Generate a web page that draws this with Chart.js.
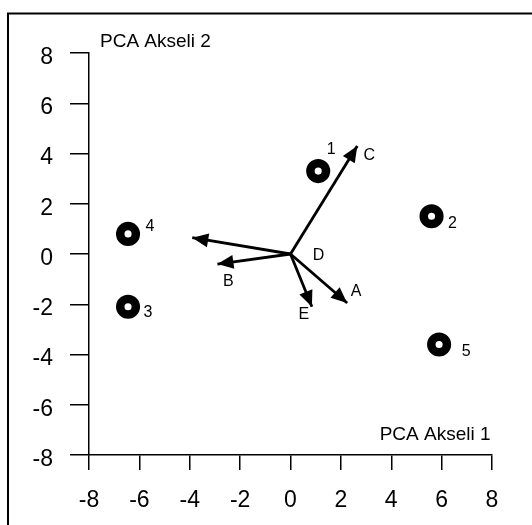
<!DOCTYPE html>
<html><head><meta charset="utf-8">
<script src="https://cdn.jsdelivr.net/npm/chart.js@4/dist/chart.umd.min.js"></script>
<style>html,body{margin:0;padding:0;background:#fff}</style>
</head><body>
<canvas id="c" width="532" height="525" style="display:block;width:532px;height:525px"></canvas>
<script>
// ---- data ----
const sampleLabels = ['1', '2', '3', '4', '5'];
const sampleX = [1.1, 5.6, -6.45, -6.45, 5.9];
const sampleY = [3.3, 1.5, -2.1, 0.8, -3.6];
const varLabels = ['C', 'D', 'B', 'E', 'A'];
const varX = [2.65, -3.9, -2.9, 0.85, 2.25];
const varY = [4.3, 0.65, -0.4, -2.1, -1.95];
const xTicks = [-8, -6, -4, -2, 0, 2, 4, 6, 8];
const yTicks = [-8, -6, -4, -2, 0, 2, 4, 6, 8];
const xTitle = 'PCA Akseli 1';
const yTitle = 'PCA Akseli 2';

// ---- styles ----
const FONT = "'Liberation Sans', Arial, sans-serif";
Chart.defaults.font.family = FONT;
Chart.defaults.color = '#000';
const sampleLabelOffsets = [[13, -21], [21, 7], [20, 6], [22, -7], [27, 7]];
// offsets relative to arrow tip (or tail for anchor 'tail')
const varLabelStyle = [
  {anchor: 'tip', dx: 12, dy: 10},
  {anchor: 'tail', dx: 28, dy: 2},
  {anchor: 'tip', dx: 11, dy: 18},
  {anchor: 'tip', dx: -8, dy: 8},
  {anchor: 'tip', dx: 9, dy: -11}
];

const datasets = varX.map((vx, i) => ({
  data: [{x: 0, y: 0}, {x: vx, y: varY[i]}],
  showLine: true,
  borderColor: '#000',
  borderWidth: 2.8,
  pointRadius: 0,
  pointHoverRadius: 0
}));
datasets.push({
  data: sampleX.map((x, i) => ({x, y: sampleY[i]})),
  showLine: false,
  pointRadius: 7.8,
  pointHoverRadius: 7.8,
  borderWidth: 8.5,
  pointBorderWidth: 8.5,
  pointBackgroundColor: '#fff',
  pointBorderColor: '#000'
});

const overlay = {
  id: 'overlay',
  afterDraw(chart) {
    const {ctx, scales: {x, y}, chartArea: ca} = chart;
    ctx.save();
    // outer frame (clipped by canvas at right/bottom)
    ctx.strokeStyle = '#000';
    ctx.lineWidth = 2;
    ctx.beginPath();
    ctx.moveTo(8, 700); ctx.lineTo(8, 13.5); ctx.lineTo(700, 13.5);
    ctx.stroke();
    // arrowheads
    const x0 = x.getPixelForValue(0), y0 = y.getPixelForValue(0);
    const L = 16, W = 7;
    ctx.fillStyle = '#000';
    varX.forEach((vx, i) => {
      const tx = x.getPixelForValue(vx), ty = y.getPixelForValue(varY[i]);
      const a = Math.atan2(ty - y0, tx - x0);
      const c = Math.cos(a), s = Math.sin(a);
      ctx.beginPath();
      ctx.moveTo(tx, ty);
      ctx.lineTo(tx - L * c + W * s, ty - L * s - W * c);
      ctx.lineTo(tx - L * c - W * s, ty - L * s + W * c);
      ctx.closePath();
      ctx.fill();
    });
    // variable labels
    ctx.font = '16px ' + FONT;
    ctx.textAlign = 'center';
    ctx.textBaseline = 'middle';
    varLabels.forEach((lab, i) => {
      const st = varLabelStyle[i];
      const bx = st.anchor === 'tip' ? x.getPixelForValue(varX[i]) : x0;
      const by = st.anchor === 'tip' ? y.getPixelForValue(varY[i]) : y0;
      ctx.fillText(lab, bx + st.dx, by + st.dy);
    });
    // sample labels
    sampleLabels.forEach((lab, i) => {
      const px = x.getPixelForValue(sampleX[i]), py = y.getPixelForValue(sampleY[i]);
      ctx.fillText(lab, px + sampleLabelOffsets[i][0], py + sampleLabelOffsets[i][1]);
    });
    // axis titles
    ctx.font = '19px ' + FONT;
    ctx.textBaseline = 'alphabetic';
    ctx.textAlign = 'left';
    ctx.fillText(yTitle, ca.left + 11, ca.top - 6.5);
    ctx.textAlign = 'right';
    ctx.fillText(xTitle, ca.right - 1.5, ca.bottom - 15);
    ctx.restore();
  }
};

const axisCommon = (vals, tickLen, labelOffset) => ({
  type: 'linear',
  min: -8, max: 8,
  afterBuildTicks: s => { s.ticks = vals.map(v => ({value: v})); },
  ticks: {font: {size: 23}, color: '#000', padding: 17, maxRotation: 0, autoSkip: false, labelOffset},
  grid: {drawOnChartArea: false, drawTicks: true, tickLength: tickLen, color: '#000', lineWidth: 1.5},
  border: {display: true, color: '#000', width: 1.5}
});

const xAxis = Object.assign(axisCommon(xTicks, 15, 0), {position: 'bottom', afterFit: s => { s.height = 70; }});
const yAxis = Object.assign(axisCommon(yTicks, 19, 4.5), {position: 'left', afterFit: s => { s.width = 89; }});

new Chart(document.getElementById('c'), {
  type: 'scatter',
  data: {datasets},
  options: {
    responsive: false,
    animation: false,
    layout: {padding: {top: 53, right: 40, left: 0, bottom: 0}},
    plugins: {legend: {display: false}, tooltip: {enabled: false}},
    scales: {x: xAxis, y: yAxis}
  },
  plugins: [overlay]
});
</script>
</body></html>
